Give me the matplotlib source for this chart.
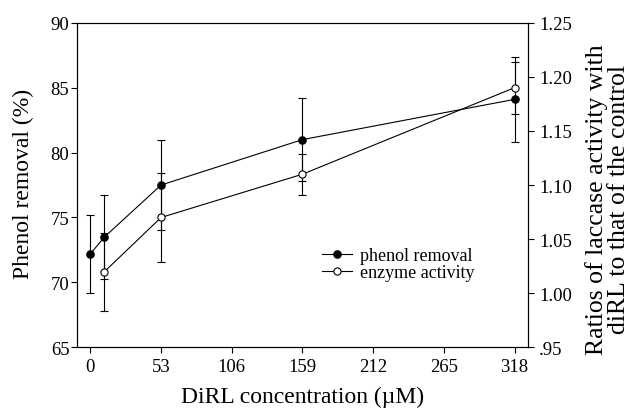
import matplotlib
matplotlib.use("Agg")
import matplotlib.pyplot as plt
from matplotlib.lines import Line2D


# ----------------------------
# Data
# ----------------------------

conc = [0, 10.6, 53, 159, 318]
phenol_removal = [72.2, 73.5, 77.5, 81.0, 84.1]
phenol_err = [3.0, 3.25, 3.5, 3.2, 3.3]

conc_enzyme = [10.6, 53, 159, 318]
enzyme_ratio = [1.020, 1.070, 1.110, 1.190]
enzyme_err = [0.036, 0.041, 0.019, 0.024]

x_ticks = [0, 53, 106, 159, 212, 265, 318]
left_ticks = [65, 70, 75, 80, 85, 90]
right_ticks = [0.95, 1.00, 1.05, 1.10, 1.15, 1.20, 1.25]
right_tick_labels = [".95", "1.00", "1.05", "1.10", "1.15", "1.20", "1.25"]


# ----------------------------
# Style
# ----------------------------

plt.rcParams["font.family"] = ["Liberation Serif", "DejaVu Serif"]

TICK_SIZE = 13.5
LABEL_SIZE = 17
LW = 0.8


def main():
    fig = plt.figure(figsize=(6.36, 4.10), dpi=100)
    ax = fig.add_axes([0.1211, 0.1505, 0.7089, 0.7915])
    ax2 = ax.twinx()

    ax.errorbar(conc, phenol_removal, yerr=phenol_err, fmt="-o", color="black",
                markerfacecolor="black", markeredgecolor="black", markersize=5.2,
                linewidth=LW, elinewidth=LW, capsize=3.2, capthick=LW, zorder=3)

    ax2.errorbar(conc_enzyme, enzyme_ratio, yerr=enzyme_err, fmt="-o", color="black",
                 markerfacecolor="white", markeredgecolor="black", markersize=5.2,
                 markeredgewidth=LW, linewidth=LW, elinewidth=LW, capsize=3.2,
                 capthick=LW, zorder=3)

    ax.set_xlim(-10, 328)
    ax.set_ylim(65, 90)
    ax2.set_ylim(0.95, 1.25)

    ax.set_xticks(x_ticks)
    ax.set_xticklabels([str(t) for t in x_ticks])
    ax.set_yticks(left_ticks)
    ax2.set_yticks(right_ticks)
    ax2.set_yticklabels(right_tick_labels)

    ax.tick_params(axis="x", direction="out", length=4, width=LW,
                   labelsize=TICK_SIZE, pad=3.5)
    ax.tick_params(axis="y", direction="out", length=4, width=LW,
                   labelsize=TICK_SIZE, pad=1.5)
    ax2.tick_params(axis="y", direction="out", length=4, width=LW,
                    labelsize=TICK_SIZE, pad=4)

    for spine in list(ax.spines.values()) + list(ax2.spines.values()):
        spine.set_linewidth(LW)

    ax.set_xlabel("DiRL concentration (\u00b5M)", fontsize=LABEL_SIZE, labelpad=8)
    ax.set_ylabel("Phenol removal (%)", fontsize=LABEL_SIZE)
    ax.yaxis.set_label_coords(-0.095, 0.506)

    ax2.set_ylabel("Ratios of laccase activity with\ndiRL to that of the control",
                   fontsize=18.5, rotation=90, linespacing=1.02)
    ax2.yaxis.set_label_coords(1.126, 0.457)

    # legend: plain line + marker handles, no frame
    handles = [
        Line2D([], [], color="black", linewidth=LW, marker="o", markersize=5.2,
               markerfacecolor="black", markeredgecolor="black"),
        Line2D([], [], color="black", linewidth=LW, marker="o", markersize=5.2,
               markerfacecolor="white", markeredgecolor="black", markeredgewidth=LW),
    ]
    ax2.legend(handles, ["phenol removal", "enzyme activity"], loc="center left",
               bbox_to_anchor=(0.543, 0.256), frameon=False, fontsize=13,
               borderpad=0, borderaxespad=0, handlelength=1.67,
               handletextpad=0.44, labelspacing=-0.02)

    fig.savefig("out.png", dpi=100)


if __name__ == "__main__":
    main()
